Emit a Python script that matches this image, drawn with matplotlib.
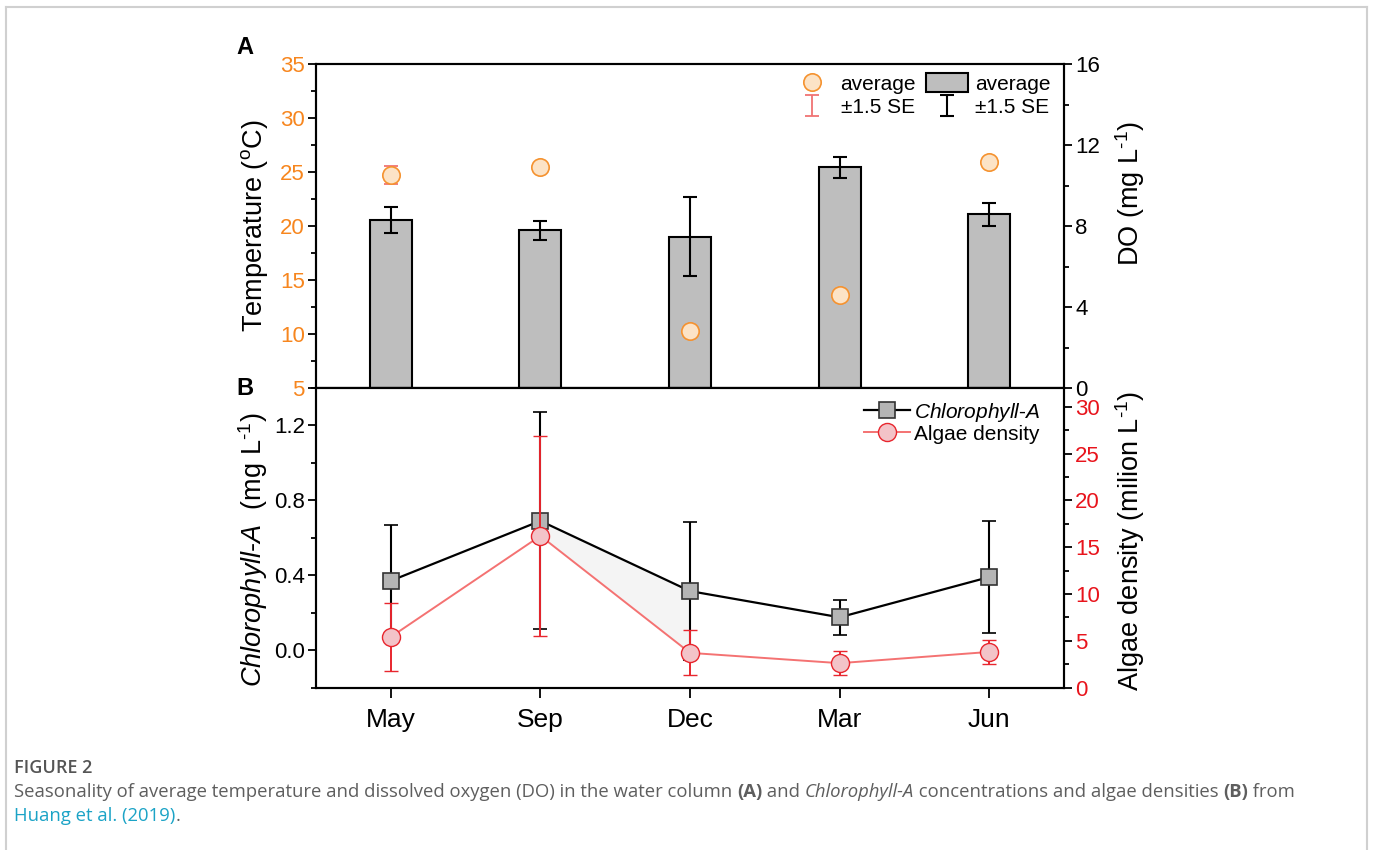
import matplotlib
matplotlib.use("Agg")
import numpy as np
import matplotlib.pyplot as plt
from matplotlib.lines import Line2D
from matplotlib.ticker import MultipleLocator, FormatStrFormatter

months = ["May", "Sep", "Dec", "Mar", "Jun"]

# panel A: water temperature (left axis) and DO (bars, right axis)
temp_mean = [24.7, 25.5, 10.3, 13.6, 25.9]
temp_se = [0.83, 0.3, 0.3, 0.3, 0.3]
do_mean = [8.30, 7.78, 7.48, 10.89, 8.57]
do_se = [0.63, 0.49, 1.95, 0.52, 0.57]

# panel B: chlorophyll-a (left axis) and algae density (right axis)
chl_mean = [0.37, 0.69, 0.315, 0.175, 0.39]
chl_se = [0.30, 0.58, 0.37, 0.093, 0.297]
algae_mean = [5.4, 16.2, 3.7, 2.6, 3.8]
algae_se = [3.65, 10.65, 2.4, 1.25, 1.25]

plt.rcParams["font.family"] = ["Liberation Sans", "DejaVu Sans"]
plt.rcParams["mathtext.fontset"] = "custom"
plt.rcParams["mathtext.rm"] = "Liberation Sans"
plt.rcParams["mathtext.it"] = "Liberation Sans:italic"
plt.rcParams["mathtext.bf"] = "Liberation Sans:bold"

ORANGE = "#F7861E"
RED = "#E8141C"
TICK_FS = 16
LABEL_FS = 19.5
INV_L = "L$^{\\text{-}1}$"

W, H = 1373, 850
fig = plt.figure(figsize=(W / 100, H / 100), dpi=100)


def px_box(l, t, r, b):
    return [l / W, 1 - b / H, (r - l) / W, (b - t) / H]


def style_axis(ax, side, major, minor, color="black"):
    ax.yaxis.set_major_locator(MultipleLocator(major))
    ax.yaxis.set_minor_locator(MultipleLocator(minor))
    kw = dict(axis="y", direction="out", width=1.3, labelsize=TICK_FS,
              labelcolor=color, pad=2)
    if side == "left":
        ax.yaxis.tick_left()
        ax.yaxis.set_label_position("left")
    else:
        ax.yaxis.tick_right()
        ax.yaxis.set_label_position("right")
    ax.tick_params(which="major", length=6, **kw)
    ax.tick_params(which="minor", length=3.5, **kw)
    for sp in ax.spines.values():
        sp.set_linewidth(1.5)


x = np.arange(1, len(months) + 1)

# ---------------- panel A ----------------
ax_do = fig.add_axes(px_box(316, 64, 1064, 388))
ax_t = ax_do.twinx()

bars = ax_do.bar(x, do_mean, width=0.28, color="#BEBEBE", edgecolor="black",
                 linewidth=1.5, zorder=2)
do_err = ax_do.errorbar(x, do_mean, yerr=do_se, fmt="none", ecolor="black",
                        elinewidth=1.5, capsize=5, capthick=1.5, zorder=3)
t_err = ax_t.errorbar(x, temp_mean, yerr=temp_se, fmt="none", ecolor="#F07373",
                      elinewidth=1.3, capsize=5, capthick=1.3)
t_pts, = ax_t.plot(x, temp_mean, "o", ls="none", ms=12.5, mfc="#FCE3C6",
                   mec="#F5922F", mew=1.2)

ax_do.set_xlim(0.5, 5.5)
ax_do.set_ylim(0, 16)
ax_t.set_ylim(5, 35)
ax_do.tick_params(axis="x", bottom=False, labelbottom=False)
style_axis(ax_do, "right", 4, 2)
style_axis(ax_t, "left", 5, 2.5, ORANGE)
ax_t.set_ylabel("Temperature ($^{\\mathrm{o}}$C)", fontsize=LABEL_FS)
ax_do.set_ylabel("DO (mg " + INV_L + ")", fontsize=LABEL_FS)
ax_t.yaxis.set_label_coords(-0.062, 0.5)
ax_do.yaxis.set_label_coords(1.066, 0.6)

ax_t.legend([t_pts, t_err, bars, do_err],
            ["average", "\u00b11.5 SE", "average", "\u00b11.5 SE"],
            ncol=2, frameon=False, fontsize=15, loc="upper right",
            bbox_to_anchor=(0.995, 1.0), labelspacing=0.15, handlelength=2.0,
            handleheight=1.0, handletextpad=0.35, columnspacing=0.5,
            borderaxespad=0.05)

# ---------------- panel B ----------------
ax_b = fig.add_axes(px_box(316, 388, 1064, 687.5))
ax_alg = ax_b.twinx()

chl_lo, chl_hi = -0.2, 1.4
alg_lo, alg_hi = 0, 32
alg_as_chl = chl_lo + (np.array(algae_mean) - alg_lo) / (alg_hi - alg_lo) * (chl_hi - chl_lo)
ax_b.fill_between(x[1:3], np.array(chl_mean)[1:3], alg_as_chl[1:3],
                  color="#F4F4F4", lw=0, zorder=0)

chl_eb = ax_b.errorbar(x, chl_mean, yerr=chl_se, fmt="s-", color="black", lw=1.6,
                       ms=11, mfc="#B5B5B5", mec="#333333", mew=1.2,
                       ecolor="black", elinewidth=1.5, capsize=5, capthick=1.5)
alg_eb = ax_alg.errorbar(x, algae_mean, yerr=algae_se, fmt="o-", color="#F47272",
                         lw=1.4, ms=13, mfc="#F3C3C8", mec="#E8262E", mew=1.0,
                         ecolor="#E8262E", elinewidth=1.4, capsize=5, capthick=1.4)

ax_b.set_xlim(0.5, 5.5)
ax_b.set_ylim(chl_lo, chl_hi)
ax_alg.set_ylim(alg_lo, alg_hi)
ax_b.set_xticks(x, months)
ax_b.tick_params(axis="x", direction="out", length=7, width=1.3,
                 labelsize=19, pad=8)
style_axis(ax_b, "left", 0.4, 0.2)
ax_b.yaxis.set_major_formatter(FormatStrFormatter("%.1f"))
style_axis(ax_alg, "right", 5, 2.5, RED)
ax_b.set_ylabel("$\\mathit{Chlorophyll}$-$\\mathit{A}$  (mg " + INV_L + ")",
                fontsize=LABEL_FS)
ax_alg.set_ylabel("Algae density (milion " + INV_L + ")", fontsize=LABEL_FS)
ax_b.yaxis.set_label_coords(-0.062, 0.46)
ax_alg.yaxis.set_label_coords(1.066, 0.49)

ax_alg.legend([chl_eb[0], alg_eb[0]],
              ["$\\mathit{Chlorophyll}$-$\\mathit{A}$", "Algae density"],
              frameon=False, fontsize=15, loc="upper right",
              bbox_to_anchor=(0.985, 1.0), labelspacing=0.05, handlelength=2.2,
              handletextpad=0.2, borderaxespad=0.2)

fig.text(245 / W, 1 - 48 / H, "A", fontsize=17, fontweight="bold",
         ha="center", va="center")
fig.text(245 / W, 1 - 388 / H, "B", fontsize=17, fontweight="bold",
         ha="center", va="center")

# ---------------- caption and frame ----------------
for xs, ys in [([6, 6], [7, 850]), ([6, 1367], [7, 7]), ([1367, 1367], [7, 850])]:
    fig.add_artist(Line2D([v / W for v in xs], [1 - v / H for v in ys],
                          transform=fig.transFigure, color="#D0D0D0", lw=1.5))

CAP_FONT = "Open Sans"
CAP_FS = 13.3
GREY = "#5E5E5E"
renderer = fig.canvas.get_renderer()


def write_line(segments, x0, y):
    xpos = x0
    for text, kw in segments:
        opts = dict(fontsize=CAP_FS, family=CAP_FONT, color=GREY)
        opts.update(kw)
        t = fig.text(xpos, y, text, va="baseline", ha="left", **opts)
        xpos += t.get_window_extent(renderer=renderer).width / W


fig.text(14 / W, 1 - 773 / H, "FIGURE 2", fontsize=13, family=CAP_FONT,
         color="#555555", fontweight="semibold", va="baseline")
write_line([
    ("Seasonality of average temperature and dissolved oxygen (DO) in the water column ", {}),
    ("(A)", {"fontweight": "bold"}),
    (" and ", {}),
    ("Chlorophyll-A", {"style": "italic"}),
    (" concentrations and algae densities ", {}),
    ("(B)", {"fontweight": "bold"}),
    (" from", {}),
], 14 / W, 1 - 797 / H)
write_line([
    ("Huang et al. (2019)", {"color": "#1BA3C6"}),
    (".", {}),
], 14 / W, 1 - 821 / H)

fig.savefig("out.png", dpi=100)
